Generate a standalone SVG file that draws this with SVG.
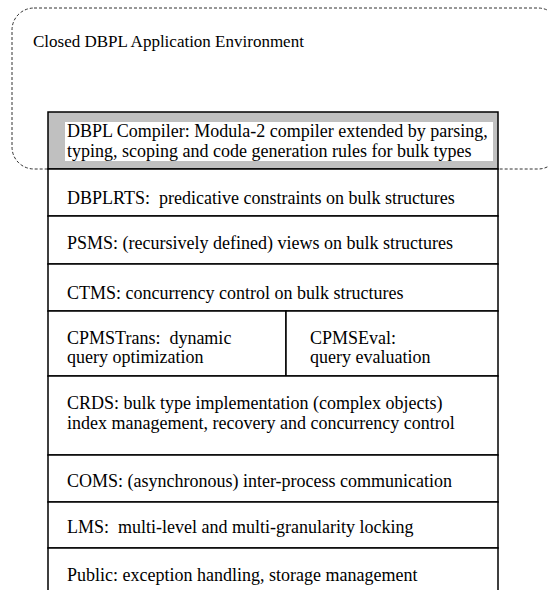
<svg xmlns="http://www.w3.org/2000/svg" width="548" height="590" viewBox="0 0 548 590">
<style>
text{font-family:"Liberation Serif","Times New Roman",serif;font-size:18px;fill:#000;white-space:pre}
.row{fill:#fff;stroke:#000;stroke-width:1.5}
.env{fill:none;stroke:#333;stroke-width:1;stroke-dasharray:3 2}
</style>
<g id="environment">
<rect class="env" x="12" y="8" width="548" height="161" rx="22" ry="22"/>
<text x="33" y="47" style="font-size:17px">Closed DBPL Application Environment</text>
</g>
<g id="compiler">
<rect x="48" y="112" width="450" height="57" fill="#c0c0c0" stroke="#000" stroke-width="1.5"/>
<rect x="65" y="122" width="428" height="39" fill="#fff"/>
<text x="67" y="137">DBPL Compiler: Modula-2 compiler extended by parsing,</text>
<text x="67" y="157">typing, scoping and code generation rules for bulk types</text>
</g>
<g id="dbplrts">
<rect class="row" x="48" y="169" width="450" height="47"/>
<text x="67" y="204" xml:space="preserve">DBPLRTS:  predicative constraints on bulk structures</text>
</g>
<g id="psms">
<rect class="row" x="48" y="216" width="450" height="48"/>
<text x="67" y="249">PSMS: (recursively defined) views on bulk structures</text>
</g>
<g id="ctms">
<rect class="row" x="48" y="264" width="450" height="47"/>
<text x="67" y="299">CTMS: concurrency control on bulk structures</text>
</g>
<g id="cpmstrans">
<rect class="row" x="48" y="311" width="238" height="65"/>
<text x="67" y="344" xml:space="preserve">CPMSTrans:  dynamic</text>
<text x="67" y="363">query optimization</text>
</g>
<g id="cpmseval">
<rect class="row" x="286" y="311" width="212" height="65"/>
<text x="310" y="344">CPMSEval:</text>
<text x="310" y="363">query evaluation</text>
</g>
<g id="crds">
<rect class="row" x="48" y="376" width="450" height="79"/>
<text x="67" y="409">CRDS: bulk type implementation (complex objects)</text>
<text x="67" y="429">index management, recovery and concurrency control</text>
</g>
<g id="coms">
<rect class="row" x="48" y="455" width="450" height="47"/>
<text x="67" y="487">COMS: (asynchronous) inter-process communication</text>
</g>
<g id="lms">
<rect class="row" x="48" y="502" width="450" height="46"/>
<text x="67" y="533" xml:space="preserve">LMS:  multi-level and multi-granularity locking</text>
</g>
<g id="public">
<path d="M48 592 V548 H498 V592" fill="#fff" stroke="#000" stroke-width="1.5"/>
<text x="67" y="581">Public: exception handling, storage management</text>
</g>
<g id="connectors"></g>
</svg>
